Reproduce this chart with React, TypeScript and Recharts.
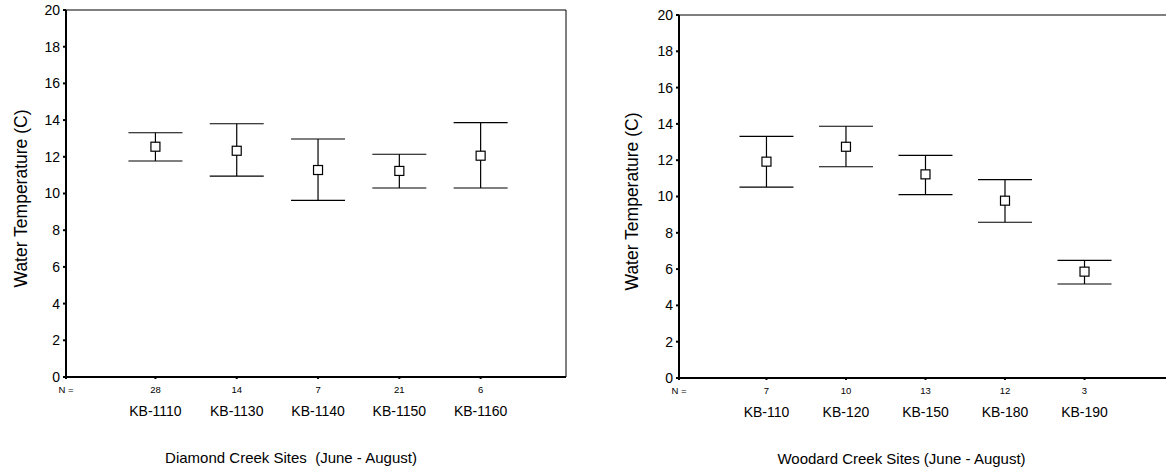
import React from "react";
import {
  ScatterChart,
  Scatter,
  XAxis,
  YAxis,
  ErrorBar,
  ReferenceLine,
  Label,
} from "recharts";

// Diamond Creek: mean water temperature with low / high interval ends
const diamondSites = ["KB-1110", "KB-1130", "KB-1140", "KB-1150", "KB-1160"];
const diamondN = [28, 14, 7, 21, 6];
const diamondMean = [12.55, 12.33, 11.28, 11.23, 12.06];
const diamondLow = [11.77, 10.95, 9.63, 10.3, 10.3];
const diamondHigh = [13.31, 13.8, 12.97, 12.14, 13.86];

// Woodard Creek
const woodardSites = ["KB-110", "KB-120", "KB-150", "KB-180", "KB-190"];
const woodardN = [7, 10, 13, 12, 3];
const woodardMean = [11.92, 12.74, 11.22, 9.77, 5.86];
const woodardLow = [10.52, 11.64, 10.1, 8.58, 5.18];
const woodardHigh = [13.31, 13.87, 12.27, 10.93, 6.48];

const yTicks = [0, 2, 4, 6, 8, 10, 12, 14, 16, 18, 20];
const X_MIN = -0.1;
const X_MAX = 6.05;

const FONT = "'Liberation Sans', Arial, sans-serif";

const OpenSquare = (p: any) => (
  <rect
    x={p.cx - 4.5}
    y={p.cy - 4.5}
    width={9}
    height={9}
    fill="#fff"
    stroke="#000"
    strokeWidth={1.2}
  />
);

type PanelProps = {
  sites: string[];
  n: number[];
  mean: number[];
  low: number[];
  high: number[];
  title: string;
  left: number;
  width: number;
  top: number;
  right: number;
  xAxisHeight: number;
  yAxisWidth: number;
  yLabelX: number;
  titleShift: number;
  showRightEdge: boolean;
};

function SitePanel(props: PanelProps) {
  const { sites, n, mean, low, high } = props;
  const data = sites.map((s, i) => ({
    x: i + 1,
    site: s,
    mean: mean[i],
    err: [mean[i] - low[i], high[i] - mean[i]],
  }));
  // first tick sits on the y axis and carries the "N =" caption
  const xTicks = [X_MIN, ...sites.map((_, i) => i + 1)];

  const SiteTick = (t: any) => {
    const i = t.index;
    if (i === 0) {
      return (
        <text x={t.x} y={t.y + 12} textAnchor="middle" fontSize={9.5} fill="#000" fontFamily={FONT}>
          N =
        </text>
      );
    }
    return (
      <g>
        <text x={t.x} y={t.y + 12} textAnchor="middle" fontSize={9.5} fill="#000" fontFamily={FONT}>
          {n[i - 1]}
        </text>
        <text x={t.x} y={t.y + 34.5} textAnchor="middle" fontSize={14} fill="#000" fontFamily={FONT}>
          {sites[i - 1]}
        </text>
      </g>
    );
  };

  return (
    <div style={{ position: "absolute", left: props.left, top: 0 }}>
      <ScatterChart
        width={props.width}
        height={467}
        margin={{ top: props.top, right: props.right, bottom: 0, left: 0 }}
        style={{ fontFamily: FONT }}
      >
        <XAxis
          type="number"
          dataKey="x"
          domain={[X_MIN, X_MAX]}
          ticks={xTicks}
          allowDataOverflow
          height={props.xAxisHeight}
          axisLine={{ stroke: "#000", strokeWidth: 2 }}
          tickLine={{ stroke: "#000", strokeWidth: 2 }}
          tickSize={2}
          tickMargin={2}
          tick={SiteTick}
          interval={0}
        >
          <Label
            content={(lp: any) => {
              const vb = lp.viewBox;
              return (
                <text
                  x={vb.x + vb.width / 2 + props.titleShift}
                  y={vb.y + 86}
                  textAnchor="middle"
                  fontSize={15}
                  fill="#000"
                  fontFamily={FONT}
                  style={{ whiteSpace: "pre" }}
                >
                  {props.title}
                </text>
              );
            }}
          />
        </XAxis>
        <YAxis
          type="number"
          dataKey="mean"
          domain={[0, 20]}
          ticks={yTicks}
          width={props.yAxisWidth}
          axisLine={{ stroke: "#000", strokeWidth: 2 }}
          tickLine={{ stroke: "#000", strokeWidth: 2 }}
          tickSize={3}
          tickMargin={3}
          tick={{ fill: "#000", fontSize: 14, fontFamily: FONT }}
        >
          <Label
            content={(lp: any) => {
              const vb = lp.viewBox;
              const cx = vb.x + props.yLabelX;
              const cy = vb.y + vb.height / 2 + 5;
              return (
                <text
                  x={cx}
                  y={cy}
                  transform={`rotate(-90 ${cx} ${cy})`}
                  textAnchor="middle"
                  dominantBaseline="central"
                  fontSize={17.5}
                  fill="#000"
                  fontFamily={FONT}
                >
                  Water Temperature (C)
                </text>
              );
            }}
          />
        </YAxis>
        {/* thin frame on top and right of the plot */}
        <ReferenceLine y={20} stroke="#000" strokeWidth={1} />
        {props.showRightEdge ? (
          <ReferenceLine x={X_MAX} stroke="#000" strokeWidth={1} />
        ) : null}
        <Scatter data={data} dataKey="mean" shape={OpenSquare} isAnimationActive={false}>
          <ErrorBar
            dataKey="err"
            direction="y"
            width={27}
            stroke="#000"
            strokeWidth={1.2}
            isAnimationActive={false}
          />
        </Scatter>
      </ScatterChart>
    </div>
  );
}

export default function App() {
  return (
    <div
      style={{
        position: "absolute",
        left: 0,
        top: 0,
        width: 1166,
        height: 467,
        overflow: "hidden",
        background: "#fff",
      }}
    >
      <SitePanel
        sites={diamondSites}
        n={diamondN}
        mean={diamondMean}
        low={diamondLow}
        high={diamondHigh}
        title="Diamond Creek Sites  (June - August)"
        left={0}
        width={580}
        top={10}
        right={14}
        xAxisHeight={90}
        yAxisWidth={66}
        yLabelX={21}
        titleShift={-25}
        showRightEdge
      />
      <SitePanel
        sites={woodardSites}
        n={woodardN}
        mean={woodardMean}
        low={woodardLow}
        high={woodardHigh}
        title="Woodard Creek Sites (June - August)"
        left={580}
        width={610}
        top={15}
        right={22}
        xAxisHeight={89}
        yAxisWidth={99}
        yLabelX={52}
        titleShift={-22}
        showRightEdge={false}
      />
    </div>
  );
}
